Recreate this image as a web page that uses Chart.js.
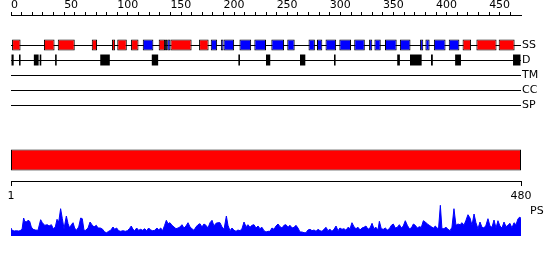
<!DOCTYPE html>
<html><head><meta charset="utf-8">
<script src="https://cdn.jsdelivr.net/npm/chart.js@4.4.0/dist/chart.umd.min.js"></script>
<style>
html,body{margin:0;padding:0;background:#fff;width:550px;height:260px;overflow:hidden;position:relative}
canvas{position:absolute;left:0}
</style></head><body>
<canvas id="tracks" width="550" height="112" style="top:0px"></canvas>
<canvas id="domain" width="550" height="72" style="top:130px"></canvas>
<canvas id="profile" width="550" height="70" style="top:190px"></canvas>
<script>
const seqLength = 480;
const trackNames = ['SS', 'D', 'TM', 'CC', 'SP'];
const helixRanges = [[1,9],[31,41],[44,60],[76,81],[95,98],[100,109],[113,120],[139,145],[150,170],[177,186],[425,433],[438,457],[459,474]];
const strandRanges = [[124,134],[145,147],[147,150],[188,194],[197.5,200],[200,210],[215,226],[229,240],[245,257],[260,267],[280,286],[288,293],[296,306],[309,320],[323,333],[337,340],[342,348],[352,363],[366,376],[385,388],[390,394],[398,409],[412,422]];
const disorderRanges = [[0,2.5],[7.5,9],[21.5,26],[27,28.5],[41.5,43],[84,93],[132.5,138.5],[214,215.5],[240,244],[272,277],[304,305.5],[363.5,366],[375.5,386.5],[395.3,397],[418,423.5],[472.5,479.5]];
const domainRanges = [[1,480]];
const lengthTicks = [1, 480];
const lengthLabels = ['1', '480'];
const psLabel = 'PS';
const psPoints = [
[0,8],[1,5.7],[3,5],[5,5.3],[7,5],[8.5,5.3],[10.4,6.7],[11.9,18],[12.9,14.7],[14.4,14],
[16,15.7],[17.6,14.7],[19.1,9],[20.7,6.7],[22.9,6],[25.4,5.7],[27.9,16.3],[29.5,13.3],[31.7,10.7],[34.2,11.3],
[35.8,10],[38,11.3],[39.8,7.3],[41.7,9],[43.3,16.7],[44.9,14],[46.7,27.3],[48.3,17.3],[49.9,7.3],[52.1,20],
[53.7,12.3],[55.2,8],[56.8,11.3],[58.4,13.3],[59.9,8],[61.5,5.7],[63.7,9],[65.6,18],[67.1,17.3],[68.7,5.7],
[70.3,5.7],[72.5,8],[74.4,14],[76.2,11.3],[78.1,9],[80.3,10.7],[81.9,8],[84.1,8],[86.3,6.7],[88.1,4],
[90,3.3],[91.9,4.7],[93.8,5.7],[96,9],[97.6,6.7],[99.4,8],[101.3,5.3],[103.2,4.7],[105.4,5.3],[107.6,4.7],
[109.5,5.3],[111.4,7.3],[113.2,10],[114.8,6.7],[116.4,5.3],[118.3,8],[120.1,5.7],[122,6.7],[123.9,5.7],[125.8,7.3],
[127.7,5.3],[129.6,8],[131.4,6],[133.3,5.3],[135.2,5.7],[137.4,8],[139,6],[140.9,8],[142.7,5.3],[144.6,10.7],
[146.2,15.7],[147.8,12.3],[149.6,13.3],[151.5,10.7],[153.4,9],[155.3,7.3],[157.2,8],[159,9],[160.9,11.3],[162.8,8],
[164.7,10],[166.6,13.3],[168.5,9],[170.3,7.3],[172.2,5.7],[174.1,9],[176,11.3],[177.9,12.3],[179.7,9],[181.6,12],
[183.5,10.7],[185.4,8],[187.3,13.3],[189.2,15.7],[191,10],[192.9,12.7],[194.8,13.3],[196.7,13.3],[198.6,9],[200.5,6.7],
[202.7,20],[204.2,10.7],[206.1,5.3],[208,8],[209.9,5.7],[211.8,4.7],[213.6,6],[215.5,5.3],[217.4,7.3],[219.3,14],
[221.2,9.3],[223,11.3],[224.9,8.7],[226.8,10.7],[228.7,11.3],[230.6,8],[232.5,10],[234.3,7.3],[236.2,8.7],[238.1,5.3],
[240,4],[241.9,4.7],[243.8,4.7],[245.6,8],[247.5,6.7],[249.4,10],[251.3,12],[253.2,9.3],[255.1,8],[256.9,10.7],
[258.8,11.3],[260.7,8.7],[262.6,10.7],[264.5,8],[266.4,8.7],[268.2,10.7],[270.1,8],[272,4],[273.9,4],[275.8,3.3],
[277.6,3.3],[279.5,6],[281.4,6.7],[283.3,5.3],[285.2,6],[287.1,4.7],[288.9,6.7],[290.8,5.3],[292.7,4.7],[294.6,6.7],
[296.5,8.7],[298.3,5.3],[300.2,6.7],[302.1,4.7],[304,6.7],[305.9,10],[307.8,5.3],[309.6,8],[311.5,6.7],[313.4,7.3],
[315.3,5.7],[317.2,8.7],[319.1,7.3],[320.9,13.3],[322.8,9.3],[324.7,7.3],[326.6,8.7],[328.5,6],[330.3,8],[332.2,8.7],
[334.1,10],[336,6.7],[337.9,8],[339.8,12.7],[341.6,7.3],[343.5,8.7],[345.4,6],[346.7,14.7],[348.5,7.3],[350.4,6.7],
[352.3,8],[354.2,6],[356.1,7.3],[358,10.7],[359.8,12],[361.7,8],[363.6,8.7],[365.5,11.3],[367.4,8],[369.2,10],
[371.1,15.3],[373,10.7],[374.9,7.3],[376.8,8],[378.7,12],[380.5,10.7],[382.4,8],[384.3,9.3],[386.2,8.7],[388.1,15.3],
[390,14],[391.8,12],[393.7,10.7],[395.6,9.3],[397.5,8],[399.4,10],[401.2,7.3],[402.5,9],[404.1,30.7],[405.6,7.3],
[407.5,7.3],[409.4,8.7],[411.3,6.7],[413.2,5.3],[415,8.7],[416.9,27.3],[418.8,10.7],[420.7,12],[422.6,11.3],[424.5,13.3],
[426.3,10.7],[428.2,15.7],[430.1,21.3],[432,18],[433.9,10.7],[435.8,22],[437.6,13.3],[439.5,7.3],[441.4,14],[443.3,8.7],
[445.2,8],[447,10.7],[448.9,17.3],[450.8,10],[452.7,8.7],[454.6,16],[456.5,8],[458.3,15.3],[460.2,10],[462.1,8],
[464,14],[465.9,9.3],[467.7,10.7],[469.6,12.7],[471.5,8],[473.4,13.3],[475.3,11.3],[477.2,17.3],[479,19],[480,17]
];

Chart.defaults.font.family = "'DejaVu Sans', sans-serif";
Chart.defaults.font.size = 11;
Chart.defaults.color = '#000';
Chart.defaults.animation = false;

const toBars = (ranges, track) => ranges.map(r => ({ x: r, y: trackNames.indexOf(track) }));
const noPlugins = { legend: { display: false }, tooltip: { enabled: false } };
const fixWidth = w => a => { a.width = w; a.paddingTop = 0; a.paddingBottom = 0; };

new Chart(document.getElementById('tracks'), {
  type: 'bar',
  data: { datasets: [
    { data: toBars(helixRanges, 'SS'), backgroundColor: '#ff0000', borderColor: '#000', borderWidth: 1, borderSkipped: false, barThickness: 11, grouped: false, inflateAmount: 0 },
    { data: toBars(strandRanges, 'SS'), backgroundColor: '#0000ff', borderColor: '#000', borderWidth: 1, borderSkipped: false, barThickness: 11, grouped: false, inflateAmount: 0 },
    { data: toBars(disorderRanges, 'D'), backgroundColor: '#000', borderWidth: 0, barThickness: 11, grouped: false, inflateAmount: 0 }
  ]},
  options: {
    indexAxis: 'y', responsive: false, animation: false,
    layout: { padding: { left: 11, right: 0, top: 0, bottom: 7 } },
    plugins: noPlugins,
    scales: {
      x: { type: 'linear', position: 'top', min: 0, max: seqLength, offset: false,
        afterFit: a => { a.height = 15; a.paddingLeft = 0; a.paddingRight = 0; },
        afterBuildTicks: a => { a.ticks = a.ticks.filter(t => t.value < seqLength); },
        ticks: { stepSize: 10, maxTicksLimit: 100, autoSkip: false, maxRotation: 0, align: 'start', padding: 0,
          callback: v => (v % 50 === 0 ? String(v) : '') },
        grid: { drawOnChartArea: false, drawTicks: true, tickLength: 3, color: '#000', offset: false },
        border: { display: true, color: '#000' } },
      y: { type: 'linear', position: 'right', reverse: true, min: -2, max: 4, offset: false,
        afterFit: fixWidth(29),
        afterBuildTicks: a => { a.ticks = trackNames.map((_, i) => ({ value: i })); },
        ticks: { padding: 1, autoSkip: false, callback: v => trackNames[v] ?? '' },
        grid: { drawOnChartArea: true, drawTicks: false, color: '#000', lineWidth: 1, offset: false },
        border: { display: false } }
    }
  }
});

new Chart(document.getElementById('domain'), {
  type: 'bar',
  data: { datasets: [
    { data: domainRanges.map(r => ({ x: r, y: 0.5 })), backgroundColor: '#ff0000', borderColor: '#000', borderWidth: 1, borderSkipped: false, barThickness: 21, grouped: false, inflateAmount: 0 }
  ]},
  options: {
    indexAxis: 'y', responsive: false, animation: false,
    layout: { padding: { left: 11, right: 29, top: 9, bottom: 0 } },
    plugins: noPlugins,
    scales: {
      x: { type: 'linear', position: 'bottom', min: lengthTicks[0], max: lengthTicks[1], offset: false,
        afterFit: a => { a.height = 21; },
        afterBuildTicks: a => { a.ticks = lengthTicks.map(v => ({ value: v })); },
        ticks: { autoSkip: false, maxRotation: 0, padding: 4, callback: (v, i) => lengthLabels[i] },
        grid: { drawOnChartArea: false, tickLength: 5, color: '#000', offset: false },
        border: { display: true, color: '#000' } },
      y: { type: 'linear', display: false, min: 0, max: 1, offset: false }
    }
  }
});

new Chart(document.getElementById('profile'), {
  type: 'line',
  data: { datasets: [
    { data: psPoints.map(p => ({ x: p[0], y: p[1] })), borderColor: '#0000ff', backgroundColor: '#0000ff', borderWidth: 1, pointRadius: 0, fill: 'origin', tension: 0 }
  ]},
  options: {
    responsive: false, animation: false,
    layout: { padding: { left: 11, right: 0, top: 10, bottom: 24 } },
    plugins: noPlugins,
    scales: {
      x: { type: 'linear', display: false, min: 0, max: seqLength },
      y: { type: 'linear', position: 'right', min: 0, max: 36,
        afterFit: fixWidth(29),
        afterBuildTicks: a => { a.ticks = [{ value: 25 }]; },
        ticks: { padding: 1, callback: () => psLabel },
        grid: { display: false }, border: { display: false } }
    }
  }
});
</script>
</body></html>
